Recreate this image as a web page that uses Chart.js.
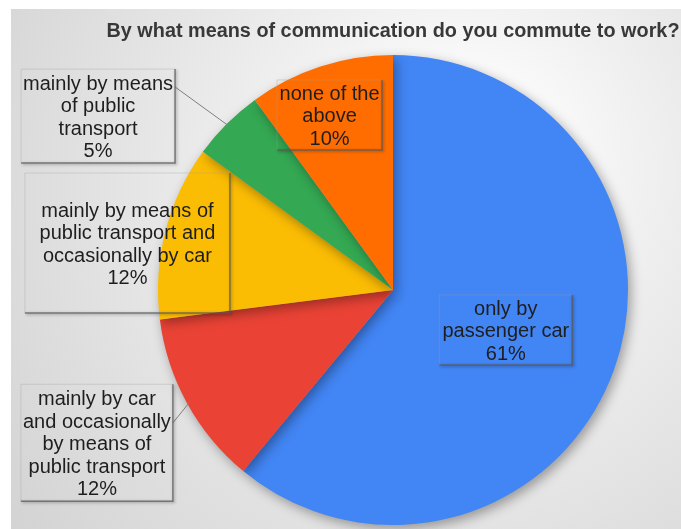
<!DOCTYPE html>
<html>
<head>
<meta charset="utf-8">
<script src="https://cdn.jsdelivr.net/npm/chart.js@4.4.1/dist/chart.umd.min.js"></script>
<style>
  html, body { margin: 0; padding: 0; background: #fff; }
  #wrap { position: relative; width: 681px; height: 529px; }
</style>
</head>
<body>
<div id="wrap"><canvas id="pie"></canvas></div>
<script>
// Chart data
const title = 'By what means of communication do you commute to work?';
const categories = [
  ['only by', 'passenger car'],
  ['mainly by car', 'and occasionally', 'by means of', 'public transport'],
  ['mainly by means of', 'public transport and', 'occasionally by car'],
  ['mainly by means', 'of public', 'transport'],
  ['none of the', 'above']
];
const shares = [61, 12, 12, 5, 10];
const colors = ['#4285f4', '#ea4335', '#fbbc04', '#34a853', '#ff6d01'];

// label placement relative to pie centre (in radii) and box size (px)
const labelLayout = [
  { dx: 0.48,  dy: 0.17,  w: 133, h: 70 },
  { dx: -1.26, dy: 0.65,  w: 152, h: 117, leader: 0.33 },
  { dx: -1.13, dy: -0.20, w: 205, h: 140 },
  { dx: -1.255, dy: -0.74, w: 154, h: 94, leader: 0.19 },
  { dx: -0.27, dy: -0.745, w: 105, h: 70 }
];

const FONT = '"Liberation Sans", Arial, sans-serif';
const LH = 22.5;

const bgPlugin = {
  id: 'bg',
  beforeDraw(chart) {
    const { ctx, width, height } = chart;
    ctx.save();
    ctx.fillStyle = '#ffffff';
    ctx.fillRect(0, 0, width, height);
    const g = ctx.createRadialGradient(470, 150, 30, 430, 220, 560);
    g.addColorStop(0, '#ffffff');
    g.addColorStop(0.3, '#f0f0f0');
    g.addColorStop(1, '#d0d0d0');
    ctx.fillStyle = g;
    ctx.fillRect(11, 9, width - 11, height - 9);
    // title
    ctx.fillStyle = '#383838';
    ctx.font = 'bold 20px ' + FONT;
    ctx.textAlign = 'center';
    ctx.textBaseline = 'middle';
    ctx.fillText(title, 393, 31, 573);
    ctx.restore();
  },
  beforeDatasetsDraw(chart) {
    const ctx = chart.ctx;
    ctx.save();
    ctx.shadowColor = 'rgba(0,0,0,0.35)';
    ctx.shadowBlur = 12;
    ctx.shadowOffsetX = 3;
    ctx.shadowOffsetY = 4;
  },
  afterDatasetsDraw(chart) {
    chart.ctx.restore();
    const ctx = chart.ctx;
    const meta = chart.getDatasetMeta(0);
    const total = shares.reduce((a, b) => a + b, 0);
    meta.data.forEach((arc, i) => {
      const L = labelLayout[i];
      const r = arc.outerRadius;
      const cx = arc.x + L.dx * r;
      const cy = arc.y + L.dy * r;
      const lines = categories[i].concat([Math.round(shares[i] / total * 100) + '%']);
      const bx = cx - L.w / 2, by = cy - L.h / 2;

      ctx.save();
      // leader line to the slice edge
      if (L.leader !== undefined) {
        const mid = (arc.startAngle + arc.endAngle) / 2;
        ctx.strokeStyle = '#808080';
        ctx.lineWidth = 1;
        ctx.beginPath();
        ctx.moveTo(bx + L.w, by + L.h * L.leader);
        ctx.lineTo(arc.x + Math.cos(mid) * r * 0.985, arc.y + Math.sin(mid) * r * 0.985);
        ctx.stroke();
      }
      // box: faint top/left edge, shadowed right/bottom edge
      ctx.strokeStyle = 'rgba(160,160,160,0.35)';
      ctx.lineWidth = 1;
      ctx.beginPath();
      ctx.moveTo(bx, by + L.h);
      ctx.lineTo(bx, by);
      ctx.lineTo(bx + L.w, by);
      ctx.stroke();
      ctx.shadowColor = 'rgba(0,0,0,0.45)';
      ctx.shadowBlur = 3;
      ctx.shadowOffsetX = 1;
      ctx.shadowOffsetY = 1;
      ctx.strokeStyle = 'rgba(90,90,90,0.75)';
      ctx.lineWidth = 1.5;
      ctx.beginPath();
      ctx.moveTo(bx + L.w, by);
      ctx.lineTo(bx + L.w, by + L.h);
      ctx.lineTo(bx, by + L.h);
      ctx.stroke();
      ctx.restore();

      ctx.save();
      ctx.fillStyle = '#1e1e1e';
      ctx.font = '20px ' + FONT;
      ctx.textAlign = 'center';
      ctx.textBaseline = 'middle';
      const top = cy + 2 - (lines.length - 1) * LH / 2;
      lines.forEach((t, k) => ctx.fillText(t, cx, top + k * LH));
      ctx.restore();
    });
  }
};

new Chart(document.getElementById('pie'), {
  type: 'pie',
  data: {
    labels: categories,
    datasets: [{
      data: shares,
      backgroundColor: colors,
      borderWidth: 0
    }]
  },
  options: {
    responsive: true, maintainAspectRatio: false,
    animation: false,
    layout: { padding: { left: 158, right: 53, top: 55, bottom: 4 } },
    plugins: { legend: { display: false }, tooltip: { enabled: false }, title: { display: false } }
  },
  plugins: [bgPlugin]
});
</script>
</body>
</html>
